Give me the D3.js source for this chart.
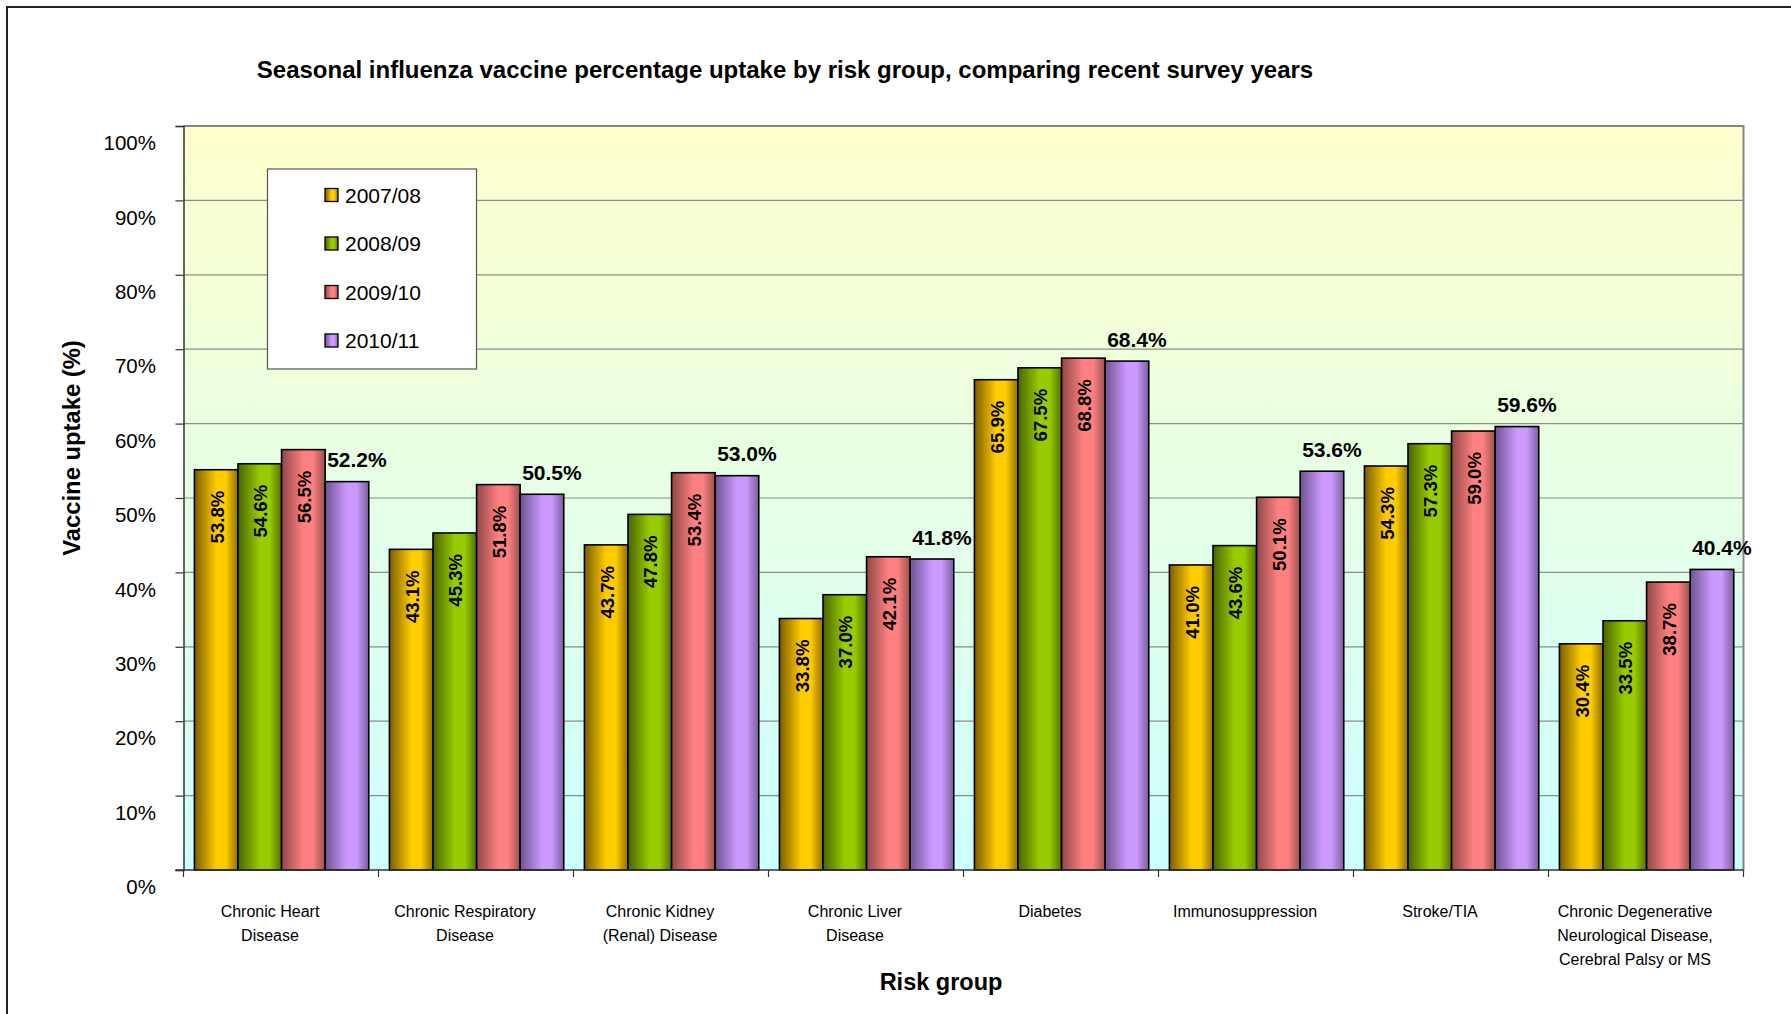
<!DOCTYPE html>
<html>
<head>
<meta charset="utf-8">
<script src="https://cdn.jsdelivr.net/npm/d3@7"></script>
<style>
  html, body { margin: 0; padding: 0; background: #fff; }
  svg { display: block; font-family: "Liberation Sans", Arial, sans-serif; }
</style>
</head>
<body>
<svg id="chart" width="1791" height="1014"></svg>
<script>
// Risk groups (line breaks as shown under the axis)
const categories = [
  ["Chronic Heart", "Disease"],
  ["Chronic Respiratory", "Disease"],
  ["Chronic Kidney", "(Renal) Disease"],
  ["Chronic Liver", "Disease"],
  ["Diabetes"],
  ["Immunosuppression"],
  ["Stroke/TIA"],
  ["Chronic Degenerative", "Neurological Disease,", "Cerebral Palsy or MS"]
];

const seriesNames = ["2007/08", "2008/09", "2009/10", "2010/11"];

// Uptake (%) per survey year
const uptake0708 = [53.8, 43.1, 43.7, 33.8, 65.9, 41.0, 54.3, 30.4];
const uptake0809 = [54.6, 45.3, 47.8, 37.0, 67.5, 43.6, 57.3, 33.5];
const uptake0910 = [56.5, 51.8, 53.4, 42.1, 68.8, 50.1, 59.0, 38.7];
const uptake1011 = [52.2, 50.5, 53.0, 41.8, 68.4, 53.6, 59.6, 40.4];

const yTicks = [0, 10, 20, 30, 40, 50, 60, 70, 80, 90, 100];

const seriesValues = [uptake0708, uptake0809, uptake0910, uptake1011];

// Cylinder-style shading: [dark edge, bright, dark edge]
const seriesShades = [
  ["#7a5d00", "#ffcc00", "#8f6f00"],
  ["#4a6400", "#99cc00", "#557300"],
  ["#8f4848", "#ff8080", "#9a5050"],
  ["#6e5490", "#cc99ff", "#7a5e9e"]
];

const svg = d3.select("#chart");
const font = '"Liberation Sans", Arial, sans-serif';

const plot = { left: 183.5, right: 1743.5, top: 126, bottom: 870 };

const defs = svg.append("defs");

// Plot background gradient: pale yellow at top, pale cyan at bottom
const bg = defs.append("linearGradient").attr("id", "plotBg")
  .attr("x1", 0).attr("y1", 0).attr("x2", 0).attr("y2", 1);
bg.append("stop").attr("offset", "0%").attr("stop-color", "#ffffcc");
bg.append("stop").attr("offset", "100%").attr("stop-color", "#ccffff");

seriesShades.forEach((s, i) => {
  const g = defs.append("linearGradient").attr("id", "barGrad" + i)
    .attr("x1", 0).attr("y1", 0).attr("x2", 1).attr("y2", 0);
  g.append("stop").attr("offset", "0%").attr("stop-color", s[0]);
  g.append("stop").attr("offset", "50%").attr("stop-color", s[1]);
  g.append("stop").attr("offset", "72%").attr("stop-color", s[1]);
  g.append("stop").attr("offset", "100%").attr("stop-color", s[2]);
});

// Outer chart frame
svg.append("rect")
  .attr("x", 7).attr("y", 7).attr("width", 1820).attr("height", 1040)
  .attr("fill", "none").attr("stroke", "#222").attr("stroke-width", 2);

// Scales
const x0 = d3.scaleBand()
  .domain(d3.range(categories.length))
  .range([plot.left, plot.right])
  .paddingInner(0).paddingOuter(0);

const bw = x0.bandwidth();
const x1 = d3.scaleBand()
  .domain(d3.range(seriesNames.length))
  .range([bw * 0.056, bw * 0.95]);

const y = d3.scaleLinear().domain([0, 100]).range([plot.bottom, plot.top]);

// Plot area
svg.append("rect")
  .attr("x", plot.left).attr("y", plot.top)
  .attr("width", plot.right - plot.left).attr("height", plot.bottom - plot.top)
  .attr("fill", "url(#plotBg)");

// Gridlines
svg.append("g")
  .selectAll("line")
  .data(yTicks.filter(t => t > 0 && t < 100))
  .join("line")
  .attr("x1", plot.left).attr("x2", plot.right)
  .attr("y1", d => y(d)).attr("y2", d => y(d))
  .attr("stroke", "#8c8c84").attr("stroke-width", 1.2);

// Plot border (top and right)
svg.append("path")
  .attr("d", `M${plot.left},${plot.top}H${plot.right}V${plot.bottom}`)
  .attr("fill", "none").attr("stroke", "#858585").attr("stroke-width", 2);

// Y axis
const yAxis = d3.axisLeft(y).tickValues(yTicks).tickSize(8).tickFormat("");
const yG = svg.append("g").attr("transform", `translate(${plot.left},0)`).call(yAxis);
yG.select(".domain").attr("stroke", "#333").attr("stroke-width", 1.5);
yG.selectAll(".tick line").attr("stroke", "#333").attr("stroke-width", 1.2);

// Y tick labels sit slightly below their gridlines
svg.append("g")
  .selectAll("text")
  .data(yTicks)
  .join("text")
  .attr("x", 156)
  .attr("y", d => y(d) + 17)
  .attr("dy", "0.35em")
  .attr("text-anchor", "end")
  .attr("font-family", font)
  .attr("font-size", 20.5)
  .attr("fill", "#000")
  .text(d => d + "%");

// Bars
const groups = svg.append("g")
  .selectAll("g")
  .data(categories)
  .join("g")
  .attr("transform", (d, i) => `translate(${x0(i)},0)`);

groups.selectAll("rect")
  .data((d, ci) => seriesValues.map((vals, si) => ({ si, v: vals[ci] })))
  .join("rect")
  .attr("x", d => x1(d.si))
  .attr("y", d => y(d.v))
  .attr("width", x1.bandwidth())
  .attr("height", d => y(0) - y(d.v))
  .attr("fill", d => `url(#barGrad${d.si})`)
  .attr("stroke", "#000")
  .attr("stroke-width", 1.6);

// Rotated value labels inside the first three series
groups.selectAll("text.inside")
  .data((d, ci) => seriesValues.slice(0, 3).map((vals, si) => ({ si, v: vals[ci] })))
  .join("text")
  .attr("class", "inside")
  .attr("transform", d => `translate(${x1(d.si) + x1.bandwidth() / 2 + 1},${y(d.v) + 21}) rotate(-90)`)
  .attr("dy", "0.36em")
  .attr("text-anchor", "end")
  .attr("font-family", font)
  .attr("font-size", 18.6)
  .attr("font-weight", "bold")
  .attr("fill", "#000")
  .text(d => d.v.toFixed(1) + "%");

// Value labels above the latest series
groups.selectAll("text.above")
  .data((d, ci) => [{ si: 3, v: uptake1011[ci] }])
  .join("text")
  .attr("class", "above")
  .attr("x", d => x1(d.si) + x1.bandwidth() / 2 + 10)
  .attr("y", d => y(d.v) - 14.5)
  .attr("text-anchor", "middle")
  .attr("font-family", font)
  .attr("font-size", 21)
  .attr("font-weight", "bold")
  .attr("fill", "#000")
  .text(d => d.v.toFixed(1) + "%");

// X axis line and category separators
const xAxisLine = svg.append("g");
xAxisLine.append("line")
  .attr("x1", plot.left - 8).attr("x2", plot.right)
  .attr("y1", plot.bottom).attr("y2", plot.bottom)
  .attr("stroke", "#333").attr("stroke-width", 1.5);
xAxisLine.selectAll("line.sep")
  .data(d3.range(categories.length + 1))
  .join("line")
  .attr("class", "sep")
  .attr("x1", i => plot.left + i * bw).attr("x2", i => plot.left + i * bw)
  .attr("y1", plot.bottom).attr("y2", plot.bottom + 7)
  .attr("stroke", "#333").attr("stroke-width", 1.2);

// Category labels
const catLabels = svg.append("g")
  .selectAll("text")
  .data(categories)
  .join("text")
  .attr("x", (d, i) => x0(i) + bw / 2 - 11)
  .attr("y", 911.5)
  .attr("text-anchor", "middle")
  .attr("font-family", font)
  .attr("font-size", 16)
  .attr("fill", "#000");
catLabels.selectAll("tspan")
  .data(d => d)
  .join("tspan")
  .attr("x", function () { return d3.select(this.parentNode).attr("x"); })
  .attr("dy", (d, i) => i === 0 ? "0.35em" : "23.7")
  .text(d => d);

// Legend
const legend = svg.append("g");
legend.append("rect")
  .attr("x", 267.5).attr("y", 169).attr("width", 209).attr("height", 200)
  .attr("fill", "#fff").attr("stroke", "#555").attr("stroke-width", 1.2);
const legendY = d3.scalePoint().domain(d3.range(seriesNames.length)).range([195, 340.5]);
const li = legend.selectAll("g.item")
  .data(seriesNames)
  .join("g")
  .attr("class", "item")
  .attr("transform", (d, i) => `translate(325,${legendY(i)})`);
li.append("rect")
  .attr("x", 0).attr("y", -6.5).attr("width", 13).attr("height", 13)
  .attr("fill", (d, i) => `url(#barGrad${i})`)
  .attr("stroke", "#000").attr("stroke-width", 1.3);
li.append("text")
  .attr("x", 20).attr("y", 0).attr("dy", "0.36em")
  .attr("font-family", font).attr("font-size", 21).attr("fill", "#000")
  .text(d => d);

// Titles
svg.append("text")
  .attr("x", 785).attr("y", 78)
  .attr("text-anchor", "middle")
  .attr("font-family", font).attr("font-size", 24).attr("font-weight", "bold")
  .text("Seasonal influenza vaccine percentage uptake by risk group, comparing recent survey years");

svg.append("text")
  .attr("transform", "translate(79.5,448) rotate(-90)")
  .attr("text-anchor", "middle")
  .attr("font-family", font).attr("font-size", 23.8).attr("font-weight", "bold")
  .text("Vaccine uptake (%)");

svg.append("text")
  .attr("x", 941).attr("y", 989.5)
  .attr("text-anchor", "middle")
  .attr("font-family", font).attr("font-size", 23.5).attr("font-weight", "bold")
  .text("Risk group");
</script>
</body>
</html>
